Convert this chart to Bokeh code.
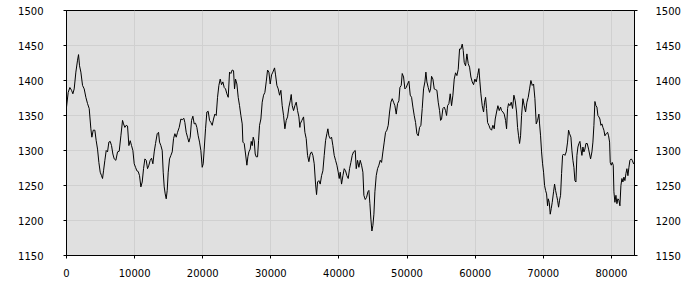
from bokeh.plotting import figure
from bokeh.models import LinearAxis, FixedTicker, Range1d
from bokeh.embed import file_html
from bokeh.resources import INLINE

# --- data ---
sample = [
    0, 249, 494, 739, 935, 1131, 1375, 1620, 1767, 1914, 2110, 2354, 2599, 2844, 3089, 3333,
    3578, 3725, 3921, 4165, 4361, 4557, 4753, 4949, 5144, 5291, 5438, 5634, 5830, 6026, 6221,
    6417, 6613, 6809, 7005, 7249, 7494, 7739, 7984, 8228, 8375, 8571, 8767, 8963, 9159, 9354,
    9550, 9746, 9942, 10137, 10333, 10529, 10725, 10921, 11116, 11312, 11508, 11704, 11900,
    12095, 12291, 12487, 12683, 12879, 13074, 13319, 13515, 13662, 13858, 14053, 14200, 14347,
    14494, 14641, 14788, 14934, 15130, 15326, 15522, 15718, 15913, 16109, 16305, 16550, 16795,
    16989, 17234, 17381, 17576, 17772, 17968, 18164, 18360, 18555, 18751, 18947, 19143, 19339,
    19534, 19730, 19926, 20073, 20220, 20416, 20611, 20807, 21003, 21199, 21395, 21590, 21786,
    21982, 22178, 22374, 22569, 22765, 22961, 23157, 23353, 23548, 23744, 23940, 24136, 24332,
    24527, 24674, 24821, 25017, 25213, 25409, 25604, 25800, 25898, 26094, 26290, 26485, 26632,
    26779, 26975, 27122, 27269, 27416, 27562, 27709, 27856, 28052, 28199, 28345, 28541, 28737,
    28933, 29129, 29324, 29520, 29716, 29912, 30108, 30303, 30548, 30695, 30891, 31087, 31282,
    31478, 31674, 31870, 32066, 32261, 32457, 32653, 32849, 32996, 33143, 33338, 33534, 33730,
    33926, 34122, 34268,
    34317, 34562, 34807, 35002, 35198, 35394, 35590, 35786, 35981, 36177, 36373, 36569, 36716,
    36862, 37058, 37254, 37450, 37646, 37841, 38037, 38233, 38380, 38527, 38723, 38918, 39114,
    39310, 39506, 39702, 39897, 40044, 40191, 40387, 40583, 40778, 40974, 41170, 41366, 41562,
    41757, 41953, 42149, 42394, 42541, 42736, 42932, 43128, 43324, 43520, 43666, 43862, 44058,
    44254, 44401, 44548, 44694, 44841, 44988, 45135, 45282, 45478, 45673, 45869, 46065, 46261,
    46457, 46652, 46848, 47044, 47240, 47436, 47631, 47827, 48023, 48219, 48415, 48610, 48806,
    48953, 49149, 49296, 49492, 49687, 49883, 50079, 50275, 50471, 50666, 50862, 51058, 51254,
    51450,
    51644, 51840, 52036, 52231, 52427, 52623, 52770, 52917, 53113, 53308, 53455, 53602, 53798,
    53994, 54189, 54385, 54581, 54777, 54924, 55071, 55266, 55462, 55658, 55805, 55952, 56147,
    56343, 56539, 56735, 56931, 57126, 57322, 57518, 57714, 57910, 58105, 58252, 58399, 58595,
    58791, 58987, 59182, 59378, 59574, 59770, 59966, 60161, 60357, 60553, 60700, 60847, 61042,
    61238, 61385, 61532, 61679, 61826, 62021, 62217, 62413, 62609, 62805, 62951, 63147, 63343,
    63539, 63735, 63882, 64077, 64273, 64469, 64616, 64763, 64910, 65105, 65301, 65497, 65693,
    65888, 66084, 66231, 66378, 66525, 66672, 66819, 67014, 67210, 67406, 67602, 67798, 67993,
    68189, 68385, 68581, 68777,
    68972, 69168, 69364, 69462, 69608, 69755, 69902, 70049, 70196, 70343, 70489, 70636, 70734,
    70881, 71028, 71175, 71322, 71517, 71664, 71811, 71958, 72105, 72252, 72399, 72545, 72692,
    72839, 72986, 73182, 73378, 73573, 73720, 73867, 74063, 74210, 74357, 74503, 74650, 74797,
    74944, 75091, 75238, 75384, 75531, 75678, 75825, 75972, 76119, 76266, 76461, 76657, 76804,
    76951, 77147, 77293, 77440, 77587, 77734, 77881, 78028, 78175, 78321, 78468, 78615, 78762,
    78909, 79056, 79252, 79447, 79594, 79741, 79839, 79986, 80133, 80280, 80378, 80525, 80671,
    80818, 80965, 81112, 81259, 81405, 81552, 81699, 81846, 81993, 82140, 82286, 82433, 82580,
    82727, 82923, 83069, 83265, 83400,
]
value = [
    1362, 1383, 1390, 1386, 1381, 1388, 1412, 1429, 1437, 1421, 1412, 1393, 1388, 1376, 1367, 1360,
    1331, 1319, 1329, 1329, 1314, 1302, 1283, 1269, 1264, 1260, 1271, 1286, 1300, 1298, 1312,
    1313, 1307, 1295, 1288, 1286, 1298, 1299, 1321, 1343, 1338, 1333, 1336, 1335, 1307, 1314,
    1307, 1300, 1281, 1276, 1271, 1270, 1264, 1248, 1255, 1274, 1288, 1286, 1274,
    1279, 1286, 1289, 1281, 1298, 1310, 1324, 1326, 1312, 1307, 1300, 1269, 1248,
    1238, 1231, 1243, 1269, 1288, 1293, 1298, 1317, 1324, 1319, 1326, 1333, 1345,
    1344, 1346, 1340, 1326, 1319, 1312, 1319, 1343, 1349, 1338, 1339, 1333, 1321,
    1312, 1300, 1276, 1281, 1302, 1331, 1355, 1356, 1343, 1340, 1336, 1345, 1352,
    1350, 1376, 1393, 1402, 1394, 1398, 1390, 1388, 1381, 1376, 1412, 1410, 1415,
    1414, 1388, 1402, 1395, 1376, 1364, 1350, 1338, 1312, 1310, 1295, 1279, 1291,
    1298, 1302, 1313, 1307, 1319, 1314, 1295, 1291, 1291, 1314, 1336, 1345, 1369,
    1379, 1383, 1398, 1415, 1412, 1395, 1408, 1412, 1418, 1408, 1393, 1388, 1379,
    1386, 1364, 1350, 1331, 1343, 1348, 1362, 1371, 1380, 1364, 1357, 1364, 1369,
    1357, 1348, 1333,
    1338, 1343, 1348, 1326, 1317, 1293, 1284, 1295, 1298, 1293, 1281, 1252, 1237,
    1255, 1257, 1252, 1264, 1271, 1293, 1314, 1324, 1331, 1321, 1317, 1319, 1307,
    1293, 1286, 1279, 1269, 1260, 1269, 1252, 1264, 1274, 1271, 1264, 1260, 1274,
    1283, 1293, 1298, 1300, 1274, 1286, 1276, 1286, 1279, 1269, 1236, 1230, 1233,
    1241, 1243, 1224, 1202, 1185, 1193, 1209, 1241, 1264, 1274, 1279, 1286, 1283,
    1298, 1312, 1326, 1329, 1336, 1355, 1369, 1374, 1369, 1364, 1352, 1367, 1371,
    1390, 1393, 1410, 1405, 1388, 1390, 1395, 1399, 1379, 1376, 1362, 1350, 1340,
    1324,
    1321, 1333, 1336, 1360, 1388, 1398, 1412, 1398, 1390, 1383, 1388, 1406, 1402,
    1388, 1387, 1386, 1369, 1357, 1343, 1345, 1360, 1362, 1357, 1350, 1364, 1367,
    1381, 1364, 1379, 1402, 1411, 1407, 1416, 1445, 1445, 1452, 1443, 1426, 1421,
    1438, 1424, 1419, 1405, 1398, 1394, 1402, 1398, 1407, 1417, 1398, 1381, 1364,
    1355, 1369, 1376, 1360, 1340, 1336, 1331, 1329, 1336, 1331, 1345, 1355, 1364,
    1357, 1362, 1357, 1355, 1352, 1343, 1331, 1360, 1367, 1364, 1369, 1360, 1379,
    1371, 1355, 1333, 1321, 1310, 1321, 1350, 1374, 1364, 1355, 1369, 1376, 1388,
    1400, 1393, 1395, 1374,
    1338, 1343, 1352, 1338, 1321, 1298, 1281, 1269, 1250, 1243, 1238, 1221, 1231,
    1226, 1209, 1217, 1226, 1241, 1252, 1243, 1236, 1229, 1219, 1229, 1236, 1267,
    1293, 1295, 1293, 1298, 1312, 1329, 1324, 1319, 1300, 1286, 1276, 1257, 1255,
    1293, 1305, 1310, 1313, 1302, 1293, 1305, 1298, 1302, 1310, 1310, 1302, 1295,
    1288, 1298, 1312, 1336, 1370, 1364, 1362, 1350, 1348, 1345, 1336, 1338, 1333,
    1329, 1321, 1324, 1326, 1321, 1312, 1283, 1279, 1283, 1279, 1241, 1226, 1236,
    1224, 1231, 1229, 1221, 1250, 1260, 1255, 1262, 1257, 1267, 1274, 1264, 1276,
    1286, 1288, 1286, 1281, 1283,
]
x_ticks = [0, 10000, 20000, 30000, 40000, 50000, 60000, 70000, 80000]
y_ticks = [1150, 1200, 1250, 1300, 1350, 1400, 1450, 1500]

FONT = "DejaVu Sans"

p = figure(width=700, height=300, output_backend="svg", toolbar_location=None,
           x_range=Range1d(0, sample[-1]), y_range=Range1d(y_ticks[0], y_ticks[-1]),
           min_border_left=66, min_border_right=66, min_border_top=10, min_border_bottom=45)
p.background_fill_color = "#e0e0e0"
p.border_fill_color = "white"
p.outline_line_color = "black"
p.outline_line_width = 1

p.line(sample, value, line_color="black", line_width=1)

def style_axis(ax, standoff):
    ax.axis_line_color = "black"
    ax.major_tick_line_color = "black"
    ax.major_tick_out = 3
    ax.major_tick_in = 0
    ax.minor_tick_line_color = None
    ax.major_label_text_font = FONT
    ax.major_label_text_font_size = "10px"
    ax.major_label_text_color = "black"
    ax.major_label_standoff = standoff

p.xaxis.ticker = FixedTicker(ticks=x_ticks)
p.yaxis.ticker = FixedTicker(ticks=y_ticks)
style_axis(p.xaxis[0], 10)
style_axis(p.yaxis[0], 20)

right = LinearAxis(ticker=FixedTicker(ticks=y_ticks))
style_axis(right, 18)
p.add_layout(right, "right")

p.xgrid.ticker = FixedTicker(ticks=x_ticks)
p.ygrid.ticker = FixedTicker(ticks=y_ticks)
p.grid.grid_line_color = "#d0d0d0"
p.grid.grid_line_width = 1

open("out.html", "w").write(file_html(p, INLINE))
